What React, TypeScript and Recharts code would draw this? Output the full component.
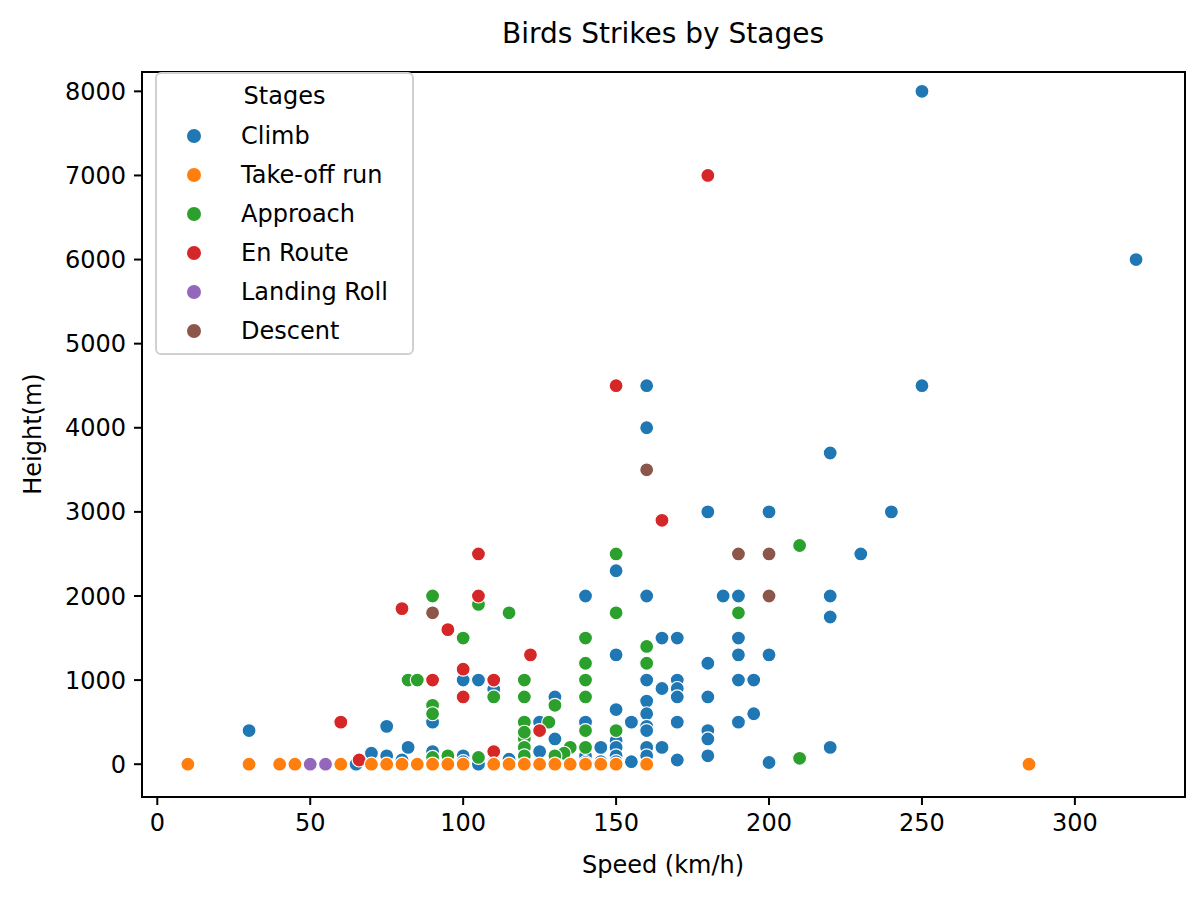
import { ScatterChart, Scatter, XAxis, YAxis } from 'recharts'

// [speed km/h, height m]
const climb: [number, number][] = [
  [250, 8000], [320, 6000], [250, 4500], [160, 4500], [160, 4000], [220, 3700],
  [180, 3000], [200, 3000], [240, 3000], [230, 2500], [150, 2300], [140, 2000],
  [160, 2000], [185, 2000], [190, 2000], [220, 2000], [220, 1750], [165, 1500],
  [170, 1500], [190, 1500], [150, 1300], [190, 1300], [200, 1300], [180, 1200],
  [100, 1000], [105, 1000], [110, 890], [160, 1000], [170, 1000], [190, 1000],
  [195, 1000], [165, 900], [170, 900], [170, 800], [130, 800], [180, 800],
  [160, 750], [150, 650], [160, 600], [195, 600], [140, 500], [125, 500],
  [155, 500], [170, 500], [190, 500], [90, 500], [160, 450], [160, 400],
  [180, 400], [150, 400], [75, 450], [30, 400], [180, 300], [130, 300],
  [150, 280], [82, 200], [160, 200], [165, 200], [145, 200], [150, 200],
  [220, 200], [180, 100], [140, 100], [150, 100], [160, 100], [90, 150],
  [100, 100], [70, 130], [75, 100], [115, 60], [125, 150], [170, 50],
  [200, 20], [65, 0], [80, 50], [100, 30], [105, 0], [110, 30], [130, 50],
  [140, 20], [145, 30], [150, 30], [155, 30], [120, 50]
]
const takeoffRun: [number, number][] = [
  [10, 0], [30, 0], [40, 0], [45, 0], [60, 0], [70, 0], [75, 0], [80, 0],
  [85, 0], [90, 0], [95, 0], [100, 0], [110, 0], [115, 0], [120, 0], [125, 0],
  [130, 0], [135, 0], [140, 0], [145, 0], [150, 0], [160, 0], [285, 0]
]
const approach: [number, number][] = [
  [210, 2600], [150, 2500], [90, 2000], [105, 1900], [115, 1800], [150, 1800],
  [190, 1800], [100, 1500], [140, 1500], [160, 1400], [160, 1200], [140, 1200],
  [82, 1000], [85, 1000], [120, 1000], [140, 1000], [120, 800], [140, 800],
  [110, 800], [90, 700], [90, 600], [120, 500], [128, 500], [130, 700],
  [140, 400], [150, 400], [120, 300], [120, 380], [120, 200], [140, 200],
  [135, 200], [133, 130], [130, 100], [120, 100], [95, 100], [105, 80],
  [90, 80], [210, 70]
]
const enRoute: [number, number][] = [
  [180, 7000], [150, 4500], [165, 2900], [105, 2500], [105, 2000], [80, 1850],
  [95, 1600], [122, 1300], [100, 1130], [90, 1000], [110, 1000], [100, 800],
  [60, 500], [125, 400], [110, 150], [66, 50]
]
const landingRoll: [number, number][] = [[50, 0], [55, 0], [110, 0]]
const descent: [number, number][] = [
  [160, 3500], [190, 2500], [200, 2500], [200, 2000], [90, 1800]
]

const xTicks = [0, 50, 100, 150, 200, 250, 300]
const yTicks = [0, 1000, 2000, 3000, 4000, 5000, 6000, 7000, 8000]

const stages = [
  { name: 'Climb', color: '#1f77b4', points: climb },
  { name: 'Take-off run', color: '#ff7f0e', points: takeoffRun },
  { name: 'Approach', color: '#2ca02c', points: approach },
  { name: 'En Route', color: '#d62728', points: enRoute },
  { name: 'Landing Roll', color: '#9467bd', points: landingRoll },
  { name: 'Descent', color: '#8c564b', points: descent }
]
// draw order (take-off run last so it sits on top near the ground)
const drawOrder = ['Climb', 'Approach', 'En Route', 'Descent', 'Landing Roll', 'Take-off run']

const font = '"DejaVu Sans", sans-serif'
const tickStyle = { fontSize: 24, fill: '#000', fontFamily: font }

export default function App() {
  return (
    <div style={{ position: 'absolute', left: 0, top: 0, width: 1202, height: 898, background: '#fff', fontFamily: font }}>
      <ScatterChart width={1202} height={898} margin={{ top: 72, right: 17, bottom: 0, left: 0 }}>
        <XAxis
          type="number"
          dataKey="x"
          domain={[-5, 336]}
          allowDataOverflow
          ticks={xTicks}
          height={101}
          tick={tickStyle}
          tickSize={8}
          tickMargin={9}
          stroke="#000"
          strokeWidth={2}
        />
        <YAxis
          type="number"
          dataKey="y"
          domain={[-390, 8230]}
          allowDataOverflow
          ticks={yTicks}
          width={142}
          tick={tickStyle}
          tickSize={8}
          tickMargin={8}
          stroke="#000"
          strokeWidth={2}
        />
        {drawOrder.map(n => {
          const s = stages.find(st => st.name === n)!
          return (
            <Scatter
              key={s.name}
              name={s.name}
              data={s.points.map(([x, y]) => ({ x, y }))}
              isAnimationActive={false}
              shape={(p: any) => (
                <circle cx={p.cx} cy={p.cy} r={7} fill={s.color} stroke="#fff" strokeWidth={1.2} />
              )}
            />
          )
        })}
      </ScatterChart>

      {/* plot frame (top and right spines) */}
      <div style={{ position: 'absolute', left: 141, top: 71, width: 1045, height: 727, boxSizing: 'border-box', border: '2px solid #000', pointerEvents: 'none' }} />

      <div style={{ position: 'absolute', left: 663, top: 33, transform: 'translate(-50%, -50%)', fontSize: 28, whiteSpace: 'nowrap' }}>
        Birds Strikes by Stages
      </div>
      <div style={{ position: 'absolute', left: 663, top: 865, transform: 'translate(-50%, -50%)', fontSize: 24, whiteSpace: 'nowrap' }}>
        Speed (km/h)
      </div>
      <div style={{ position: 'absolute', left: 33, top: 434, transform: 'translate(-50%, -50%) rotate(-90deg)', fontSize: 24, whiteSpace: 'nowrap' }}>
        Height(m)
      </div>

      <div
        style={{
          position: 'absolute', left: 155, top: 72, width: 259, height: 283, boxSizing: 'border-box',
          border: '2px solid #d0d0d0', borderRadius: 6, background: 'rgba(255,255,255,0.8)', fontSize: 24
        }}
      >
        <div style={{ position: 'absolute', left: 0, width: '100%', top: 22, transform: 'translateY(-50%)', textAlign: 'center' }}>
          Stages
        </div>
        {stages.map((s, i) => (
          <div key={s.name} style={{ position: 'absolute', left: 0, top: 62 + i * 39, transform: 'translateY(-50%)', height: 30, width: '100%' }}>
            <span style={{ position: 'absolute', left: 30, top: 8, width: 14, height: 14, borderRadius: 7, background: s.color }} />
            <span style={{ position: 'absolute', left: 84, top: 0, lineHeight: '30px', whiteSpace: 'nowrap' }}>{s.name}</span>
          </div>
        ))}
      </div>
    </div>
  )
}
